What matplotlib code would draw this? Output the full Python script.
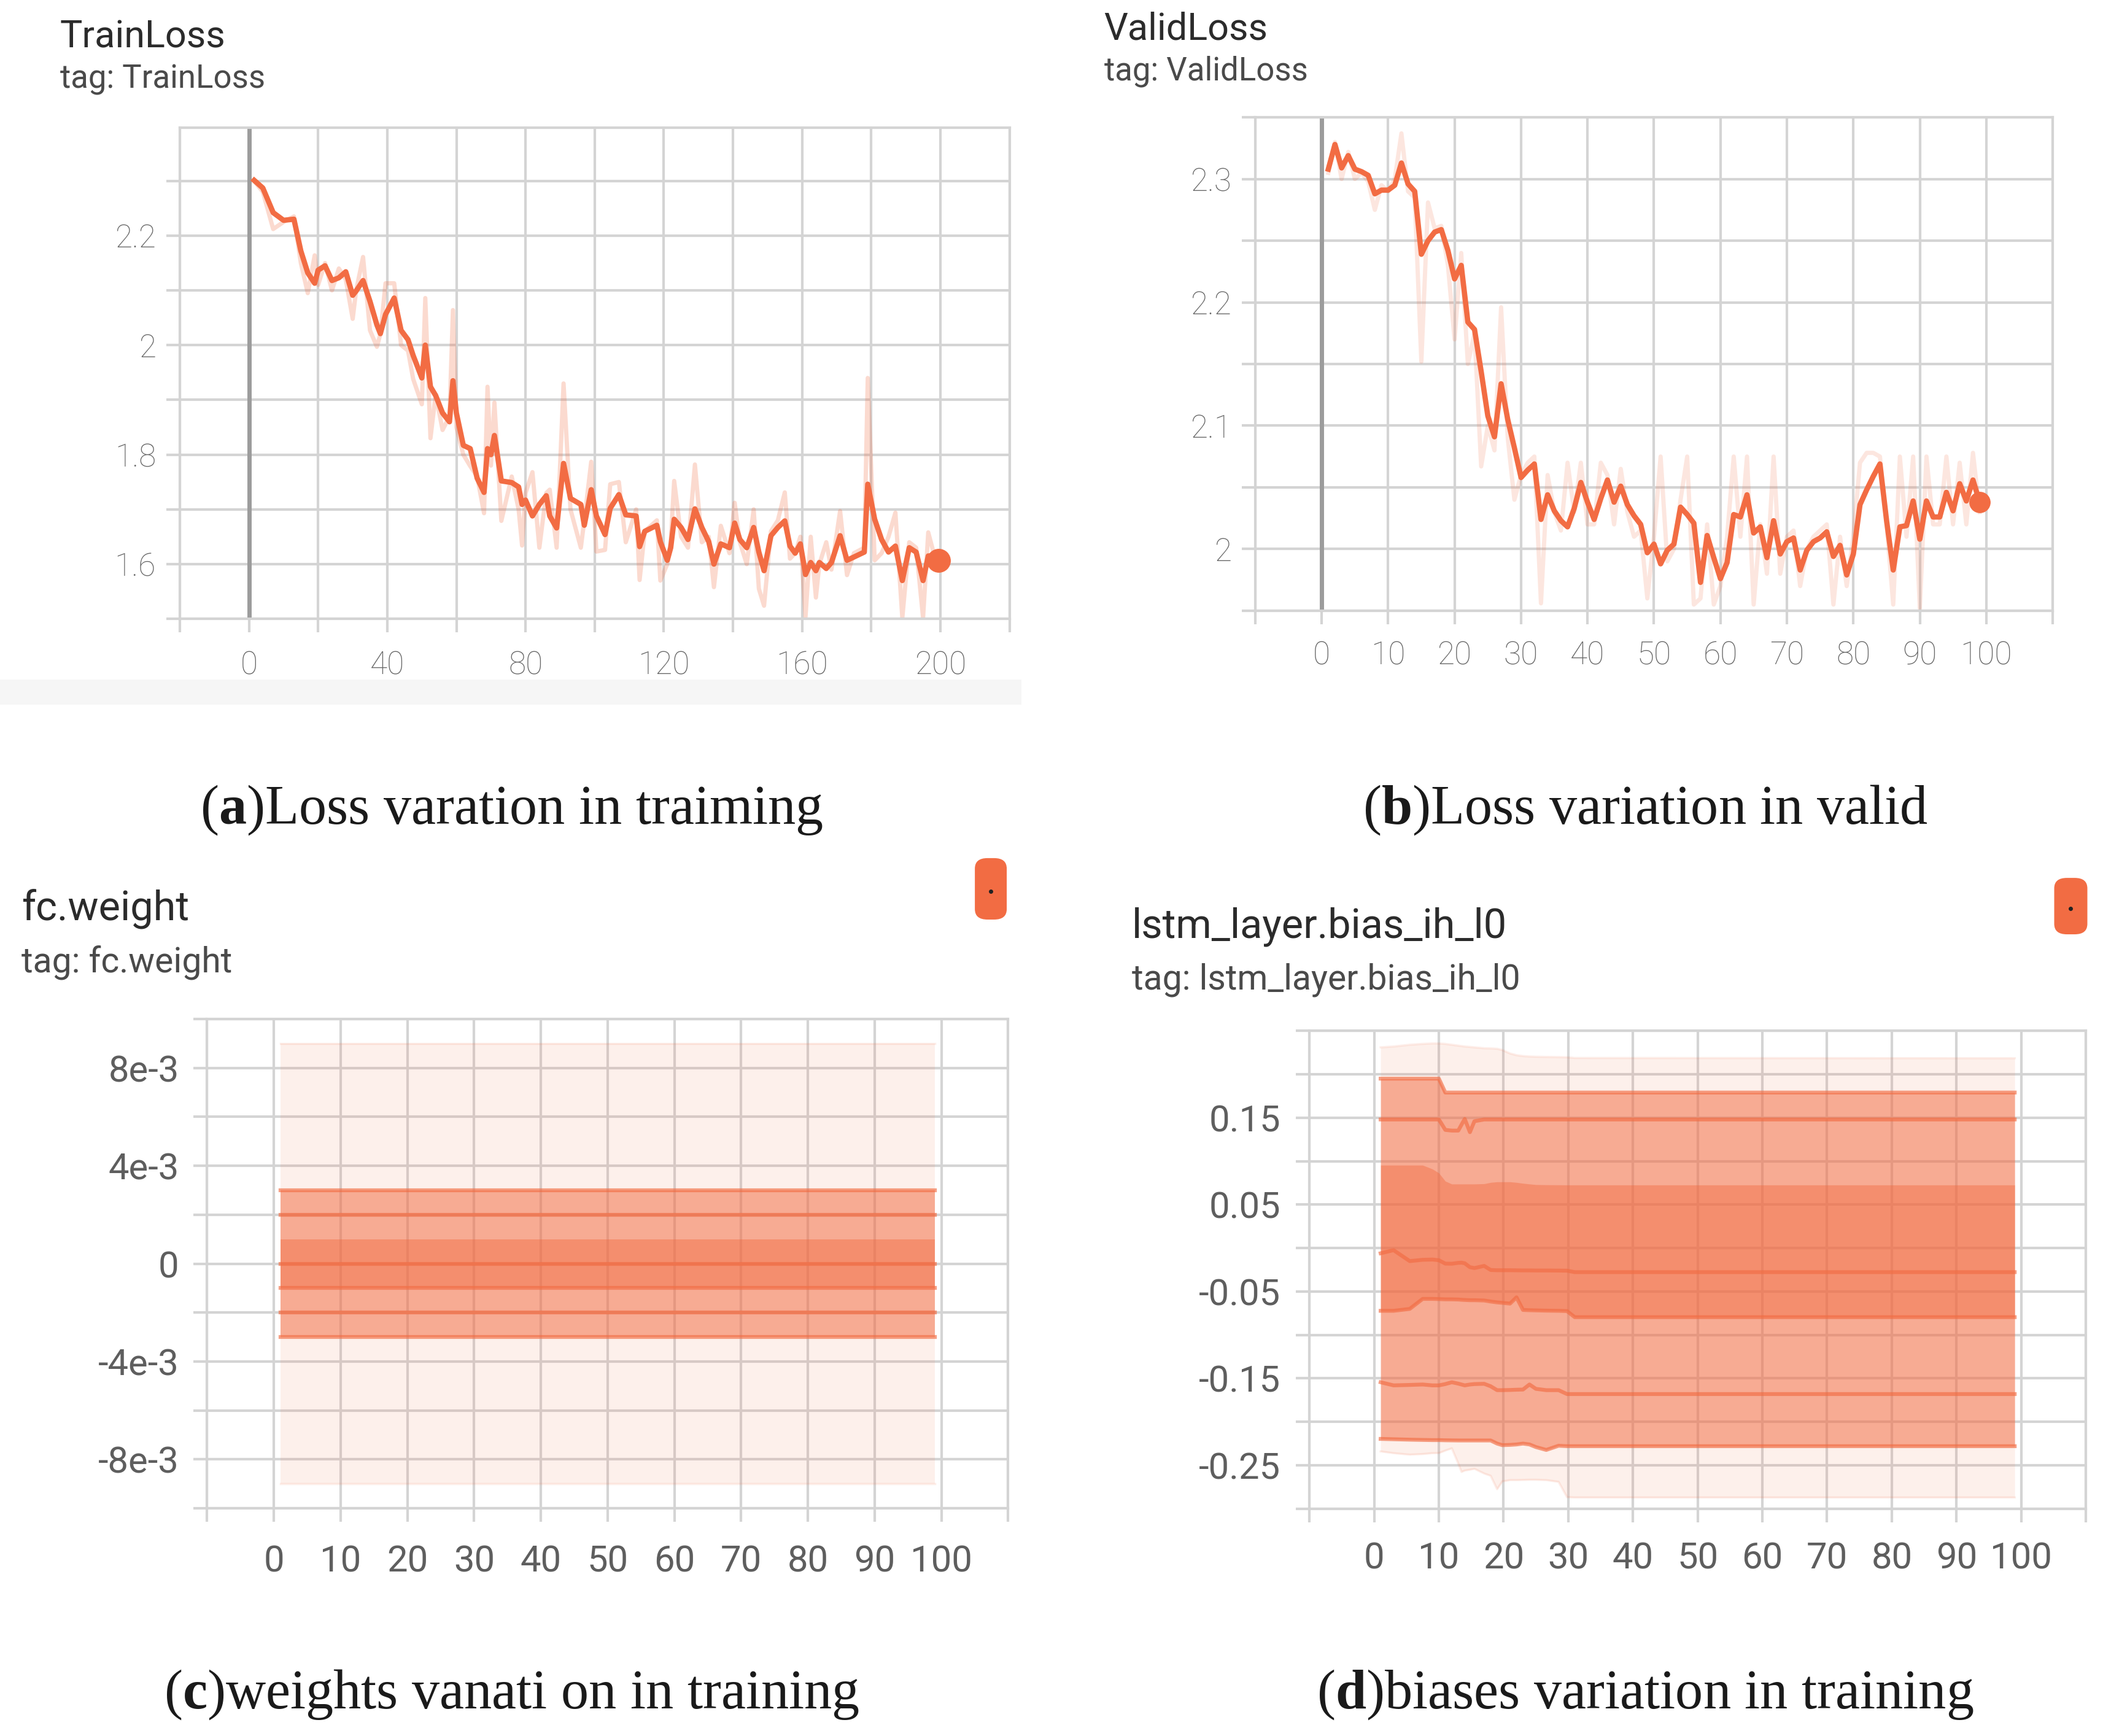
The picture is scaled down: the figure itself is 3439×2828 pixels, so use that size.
import numpy as np
import matplotlib
matplotlib.use('Agg')
import matplotlib.pyplot as plt
from matplotlib.patches import FancyBboxPatch, Rectangle
from matplotlib.lines import Line2D

plt.rcParams['font.family'] = ['Roboto', 'DejaVu Sans']
plt.rcParams['mathtext.fontset'] = 'custom'
plt.rcParams['mathtext.rm'] = 'Liberation Serif'
plt.rcParams['mathtext.bf'] = 'Liberation Serif:bold'

ORANGE = '#f26c43'
GRID = '#d4d4d4'

# (a) TrainLoss - geglaettete Kurve und Rohwerte
train_step = [1.5, 4, 7, 10, 13, 15, 17, 19, 20, 22, 24, 26, 28, 30, 31, 33, 35, 37, 38, 39.5,
              42, 44, 46, 47.5, 50, 51, 52.5, 54, 56, 58, 59, 60, 62, 64, 66, 68, 69, 70, 71, 73,
              76, 78, 79, 80, 82, 84, 86, 87, 89, 91, 93, 96, 97, 99, 100.5, 103, 104.5, 107, 109, 112,
              113, 114.5, 118, 119, 121, 122, 123, 125, 127, 129, 131, 133, 134.5, 136.5, 139, 140.5,
              142, 144, 146, 147.5, 149, 151, 153, 155, 156.5, 158, 159.5, 161, 162.5, 164, 165, 167,
              168.5, 171, 173, 175, 178, 179, 181, 183, 185, 187, 189, 191, 193, 195, 196.5, 198.5, 199.5]
train_smooth = [2.301, 2.287, 2.242, 2.228, 2.230, 2.172, 2.132, 2.113, 2.137, 2.145, 2.118, 2.123, 2.134,
                2.091, 2.099, 2.118, 2.080, 2.037, 2.021, 2.056, 2.086, 2.027, 2.010, 1.981, 1.940, 2.000,
                1.924, 1.908, 1.876, 1.860, 1.935, 1.876, 1.817, 1.811, 1.757, 1.731, 1.811, 1.800, 1.835,
                1.752, 1.749, 1.741, 1.709, 1.717, 1.688, 1.709, 1.725, 1.688, 1.666, 1.784, 1.720, 1.709,
                1.671, 1.736, 1.688, 1.654, 1.702, 1.727, 1.690, 1.688, 1.632, 1.660, 1.671, 1.641, 1.607,
                1.630, 1.682, 1.667, 1.645, 1.701, 1.667, 1.641, 1.600, 1.637, 1.630, 1.675, 1.645, 1.630,
                1.667, 1.622, 1.588, 1.652, 1.667, 1.679, 1.633, 1.620, 1.637, 1.581, 1.603, 1.588, 1.603,
                1.592, 1.603, 1.652, 1.607, 1.613, 1.622, 1.746, 1.682, 1.645, 1.622, 1.633, 1.570, 1.630,
                1.622, 1.570, 1.615, 1.615, 1.607]
train_raw = [2.300, 2.280, 2.212, 2.225, 2.235, 2.150, 2.095, 2.164, 2.110, 2.150, 2.100, 2.140, 2.120,
             2.048, 2.100, 2.161, 2.027, 1.997, 2.020, 2.113, 2.113, 2.000, 1.990, 1.938, 1.892, 2.086,
             1.830, 1.910, 1.845, 1.870, 2.064, 1.850, 1.800, 1.779, 1.760, 1.693, 1.924, 1.780, 1.895,
             1.679, 1.760, 1.700, 1.634, 1.730, 1.768, 1.630, 1.730, 1.736, 1.630, 1.930, 1.700, 1.630,
             1.680, 1.787, 1.623, 1.626, 1.746, 1.750, 1.640, 1.700, 1.571, 1.660, 1.680, 1.570, 1.600,
             1.640, 1.752, 1.650, 1.630, 1.782, 1.640, 1.650, 1.558, 1.670, 1.620, 1.712, 1.640, 1.600,
             1.700, 1.555, 1.524, 1.660, 1.680, 1.731, 1.610, 1.620, 1.650, 1.504, 1.650, 1.539, 1.600,
             1.640, 1.590, 1.697, 1.580, 1.620, 1.630, 1.940, 1.607, 1.620, 1.650, 1.694, 1.502, 1.640,
             1.630, 1.502, 1.658, 1.610, 1.600]

# (b) ValidLoss
valid_step = list(range(1, 100))
valid_smooth = [2.308, 2.328, 2.309, 2.319, 2.308, 2.306, 2.303, 2.288, 2.291, 2.291,
                2.295, 2.313, 2.296, 2.290, 2.239, 2.250, 2.257, 2.259, 2.242, 2.219,
                2.230, 2.184, 2.178, 2.144, 2.108, 2.091, 2.134, 2.105, 2.082, 2.058,
                2.064, 2.069, 2.024, 2.044, 2.031, 2.023, 2.018, 2.033, 2.054, 2.038,
                2.024, 2.041, 2.056, 2.038, 2.051, 2.036, 2.027, 2.020, 1.997, 2.004,
                1.988, 1.999, 2.004, 2.034, 2.028, 2.021, 1.973, 2.011, 1.993, 1.976,
                1.989, 2.028, 2.026, 2.044, 2.013, 2.018, 1.993, 2.023, 1.996, 2.006,
                2.009, 1.983, 1.999, 2.006, 2.009, 2.014, 1.994, 2.003, 1.979, 1.996,
                2.036, 2.048, 2.059, 2.069, 2.023, 1.983, 2.018, 2.019, 2.039, 2.008,
                2.039, 2.026, 2.026, 2.046, 2.031, 2.053, 2.039, 2.056, 2.038]
valid_raw = [2.305, 2.330, 2.300, 2.322, 2.300, 2.305, 2.298, 2.275, 2.295, 2.290,
             2.300, 2.337, 2.290, 2.285, 2.152, 2.281, 2.260, 2.262, 2.230, 2.170,
             2.240, 2.150, 2.175, 2.067, 2.100, 2.080, 2.196, 2.090, 2.040, 2.060,
             2.070, 2.075, 1.956, 2.060, 2.030, 2.015, 2.070, 2.030, 2.070, 2.020,
             2.020, 2.070, 2.060, 2.020, 2.065, 2.030, 2.010, 2.015, 1.960, 2.010,
             2.075, 1.990, 2.000, 2.040, 2.075, 1.955, 1.960, 2.020, 1.955, 1.970,
             2.010, 2.075, 2.010, 2.075, 1.955, 2.020, 1.980, 2.075, 1.980, 2.010,
             2.015, 1.970, 2.000, 2.010, 2.015, 2.020, 1.955, 2.010, 1.970, 2.010,
             2.070, 2.078, 2.078, 2.075, 2.020, 1.955, 2.075, 2.010, 2.075, 1.952,
             2.075, 2.020, 2.020, 2.075, 2.020, 2.070, 2.020, 2.078, 2.030]

# (c) fc.weight - Perzentile der Verteilung
fc_step = [1, 99]
fc_max = [9e-3, 9e-3]
fc_p93 = [3e-3, 3e-3]
fc_p84 = [2e-3, 2e-3]
fc_p69 = [1e-3, 1e-3]
fc_p50 = [0.0, 0.0]
fc_p31 = [-1e-3, -1e-3]
fc_p16 = [-2e-3, -2e-3]
fc_p7 = [-3e-3, -3e-3]
fc_min = [-9e-3, -9e-3]

# (d) lstm_layer.bias_ih_l0
b_step = [1, 3, 5.5, 7.5, 9, 10, 11, 12, 13, 13.5, 14, 14.8, 15.5, 17, 18, 19, 19.8,
          21, 22, 23, 24, 25, 26.6, 28.5, 29.8, 31, 99]
b_max = [0.231, 0.232, 0.234, 0.235, 0.2355, 0.2355, 0.235, 0.234, 0.233, 0.2325, 0.232, 0.2315,
         0.231, 0.230, 0.2298, 0.2294, 0.228, 0.224, 0.222, 0.221, 0.2205, 0.2202, 0.220, 0.2198,
         0.2196, 0.2188, 0.2185]
b_p93 = [0.195, 0.195, 0.195, 0.195, 0.195, 0.195, 0.179, 0.179, 0.179, 0.179, 0.179, 0.179,
         0.179, 0.179, 0.179, 0.179, 0.179, 0.179, 0.179, 0.179, 0.179, 0.179, 0.179, 0.179,
         0.179, 0.179, 0.179]
b_p84 = [0.148, 0.148, 0.148, 0.148, 0.148, 0.148, 0.136, 0.1352, 0.1352, 0.142, 0.1486, 0.1334,
         0.146, 0.148, 0.148, 0.148, 0.148, 0.148, 0.148, 0.148, 0.148, 0.148, 0.148, 0.148,
         0.148, 0.148, 0.148]
b_p69 = [0.0954, 0.0954, 0.0954, 0.0954, 0.091, 0.0864, 0.077, 0.0737, 0.0737, 0.0737, 0.0737,
         0.0737, 0.0737, 0.074, 0.0755, 0.0762, 0.0762, 0.0762, 0.0755, 0.0745, 0.0737, 0.073,
         0.0728, 0.0727, 0.0726, 0.0726, 0.0726]
b_p50 = [-0.006, -0.0024, -0.015, -0.0135, -0.0132, -0.014, -0.0179, -0.018, -0.017, -0.0168,
         -0.0175, -0.022, -0.023, -0.0205, -0.0252, -0.0255, -0.0255, -0.0255, -0.0256, -0.0257,
         -0.0257, -0.0258, -0.0258, -0.0259, -0.026, -0.0277, -0.0277]
b_p31 = [-0.0722, -0.0722, -0.070, -0.0585, -0.0585, -0.0587, -0.059, -0.059, -0.0592, -0.0595,
         -0.0597, -0.060, -0.060, -0.0603, -0.0615, -0.0625, -0.063, -0.0639, -0.0567, -0.0712,
         -0.0715, -0.0717, -0.072, -0.0722, -0.0725, -0.0795, -0.0795]
b_p16 = [-0.1544, -0.158, -0.1575, -0.157, -0.158, -0.158, -0.1565, -0.1544, -0.156, -0.157,
         -0.158, -0.157, -0.1565, -0.1562, -0.159, -0.1635, -0.1635, -0.1633, -0.163, -0.1628,
         -0.157, -0.162, -0.1635, -0.1635, -0.168, -0.168, -0.168]
b_p7 = [-0.2196, -0.220, -0.2205, -0.2208, -0.221, -0.221, -0.2212, -0.2213, -0.2214, -0.2214,
        -0.2214, -0.2214, -0.2214, -0.2214, -0.2214, -0.225, -0.2268, -0.2265, -0.226, -0.225,
        -0.226, -0.229, -0.2323, -0.2275, -0.228, -0.228, -0.228]
b_min = [-0.234, -0.236, -0.2377, -0.237, -0.236, -0.2359, -0.233, -0.2304, -0.248, -0.2576,
         -0.256, -0.255, -0.254, -0.2594, -0.262, -0.2775, -0.2685, -0.267, -0.267, -0.2668,
         -0.2666, -0.2666, -0.267, -0.269, -0.2866, -0.287, -0.287]


def style_axes(ax, xticks, xlabels, yticks, ylabels, xlim, ylim, fs, xpad, ypad, weight, lcolor):
    ax.set_xlim(*xlim)
    ax.set_ylim(*ylim)
    ax.set_xticks(xticks)
    ax.set_xticklabels(xlabels)
    ax.set_yticks(yticks)
    ax.set_yticklabels(ylabels)
    ax.grid(True, color=GRID, lw=3)
    ax.set_axisbelow(True)
    for s in ax.spines.values():
        s.set_color(GRID)
        s.set_linewidth(3)
    ax.tick_params(axis='both', length=16, width=3, color=GRID,
                   labelcolor=lcolor, labelsize=fs)
    ax.tick_params(axis='x', pad=xpad)
    ax.tick_params(axis='y', pad=ypad)
    for lab in ax.get_xticklabels() + ax.get_yticklabels():
        lab.set_fontweight(weight)


def draw_distribution(ax, steps, pmax, p93, p84, p69, p50, p31, p16, p7, pmin):
    ax.fill_between(steps, pmin, pmax, color=ORANGE, alpha=0.10, lw=0, zorder=2)
    ax.fill_between(steps, p7, p93, color=ORANGE, alpha=0.52, lw=0, zorder=2)
    ax.fill_between(steps, p31, p69, color=ORANGE, alpha=0.46, lw=0, zorder=2)
    for p in (pmax, pmin):
        ax.plot(steps, p, color=ORANGE, alpha=0.12, lw=2.5, zorder=3)
    for p in (p93, p84, p50, p31, p16, p7):
        ax.plot(steps, p, color=ORANGE, alpha=0.65, lw=4.5, zorder=3)


def titles(x, y1, y2, name, s1, s2):
    fig.text(x, y1, name, fontsize=s1, color='#2b2b2b', va='baseline')
    fig.text(x, y2, 'tag: ' + name, fontsize=s2, color='#4a4a4a', va='baseline')


def badge(x, y, w, h):
    fig.add_artist(FancyBboxPatch((x, y), w, h, boxstyle='round,pad=0,rounding_size=0.006',
                                  transform=fig.transFigure, facecolor=ORANGE, edgecolor='none'))
    fig.add_artist(Line2D([x + w / 2], [y + h * 0.46], marker='o', ms=4, color='#222222',
                          transform=fig.transFigure))


fig = plt.figure(figsize=(34.39, 28.28), dpi=100)

# grauer Streifen unter (a)
fig.add_artist(Rectangle((0, 0.594), 0.484, 0.0146, transform=fig.transFigure,
                         facecolor='#f6f6f6', edgecolor='none', zorder=0))

# (a)
ax_a = fig.add_axes([0.0852, 0.6435, 0.3930, 0.2829])
xa = list(range(-20, 221, 20))
ya = [1.5, 1.6, 1.7, 1.8, 1.9, 2.0, 2.1, 2.2, 2.3]
style_axes(ax_a, xa, [str(v) if v in (0, 40, 80, 120, 160, 200) else '' for v in xa],
           ya, ['', '1.6', '', '1.8', '', '2', '', '2.2', ''],
           (-20, 220), (1.5, 2.397), 37, 21, 12, 'light', '#686868')
ax_a.axvline(0, color='#9c9c9c', lw=5, zorder=1)
ax_a.plot(train_step, train_raw, color=ORANGE, alpha=0.25, lw=5, zorder=2)
ax_a.plot(train_step, train_smooth, color=ORANGE, lw=6.2, zorder=3, solid_joinstyle='round')
ax_a.plot(train_step[-1], train_smooth[-1], 'o', color=ORANGE, ms=27, zorder=4)
titles(0.0284, 0.9727, 0.9493, 'TrainLoss', 44, 38)
fig.text(0.2425, 0.5255, r'($\mathbf{a}$)Loss varation in traiming', family='Liberation Serif',
         fontsize=65, ha='center', va='baseline', color='#1a1a1a')

# (b)
ax_b = fig.add_axes([0.5946, 0.6482, 0.3778, 0.2842])
xb = list(range(-10, 111, 10))
yb = [1.95, 2.0, 2.05, 2.1, 2.15, 2.2, 2.25, 2.3, 2.35]
style_axes(ax_b, xb, [str(v) if 0 <= v <= 100 else '' for v in xb],
           yb, ['', '2', '', '2.1', '', '2.2', '', '2.3', ''],
           (-10, 110), (1.95, 2.35), 37, 19, 12, 'light', '#686868')
ax_b.axvline(0, color='#9c9c9c', lw=5, zorder=1)
ax_b.plot(valid_step, valid_raw, color=ORANGE, alpha=0.17, lw=5, zorder=2)
ax_b.plot(valid_step, valid_smooth, color=ORANGE, lw=6.2, zorder=3, solid_joinstyle='round')
ax_b.plot(valid_step[-1], valid_smooth[-1], 'o', color=ORANGE, ms=24, zorder=4)
titles(0.523, 0.9771, 0.9537, 'ValidLoss', 44, 38)
fig.text(0.7795, 0.5255, r'($\mathbf{b}$)Loss variation in valid', family='Liberation Serif',
         fontsize=65, ha='center', va='baseline', color='#1a1a1a')

# (c)
ax_c = fig.add_axes([0.0981, 0.1312, 0.3795, 0.2818])
xc = list(range(-10, 111, 10))
yc = [-0.01, -0.008, -0.006, -0.004, -0.002, 0.0, 0.002, 0.004, 0.006, 0.008, 0.01]
style_axes(ax_c, xc, [str(v) if 0 <= v <= 100 else '' for v in xc],
           yc, ['', '-8e-3', '', '-4e-3', '', '0', '', '4e-3', '', '8e-3', ''],
           (-10, 110), (-0.01, 0.01), 43, 26, 17, 'normal', '#5e5e5e')
draw_distribution(ax_c, fc_step, fc_max, fc_p93, fc_p84, fc_p69, fc_p50, fc_p31, fc_p16, fc_p7, fc_min)
titles(0.0101, 0.4696, 0.4399, 'fc.weight', 48, 41)
badge(0.4618, 0.4703, 0.0151, 0.0354)
fig.text(0.2425, 0.016, r'($\mathbf{c}$)weights vanati on in training', family='Liberation Serif',
         fontsize=65, ha='center', va='baseline', color='#1a1a1a')

# (d)
ax_d = fig.add_axes([0.6203, 0.1309, 0.3678, 0.2753])
xd = list(range(-10, 111, 10))
yd = [-0.3, -0.25, -0.2, -0.15, -0.1, -0.05, 0.0, 0.05, 0.1, 0.15, 0.2, 0.25]
style_axes(ax_d, xd, [str(v) if 0 <= v <= 100 else '' for v in xd],
           yd, ['', '-0.25', '', '-0.15', '', '-0.05', '', '0.05', '', '0.15', '', ''],
           (-10, 110), (-0.3, 0.25), 43, 22, 18, 'normal', '#5e5e5e')
draw_distribution(ax_d, b_step, b_max, b_p93, b_p84, b_p69, b_p50, b_p31, b_p16, b_p7, b_min)
titles(0.5361, 0.4599, 0.4303, 'lstm_layer.bias_ih_l0', 48, 41)
badge(0.9731, 0.4618, 0.0157, 0.0325)
fig.text(0.7795, 0.016, r'($\mathbf{d}$)biases variation in training', family='Liberation Serif',
         fontsize=65, ha='center', va='baseline', color='#1a1a1a')

plt.savefig('out.png', dpi=100)
